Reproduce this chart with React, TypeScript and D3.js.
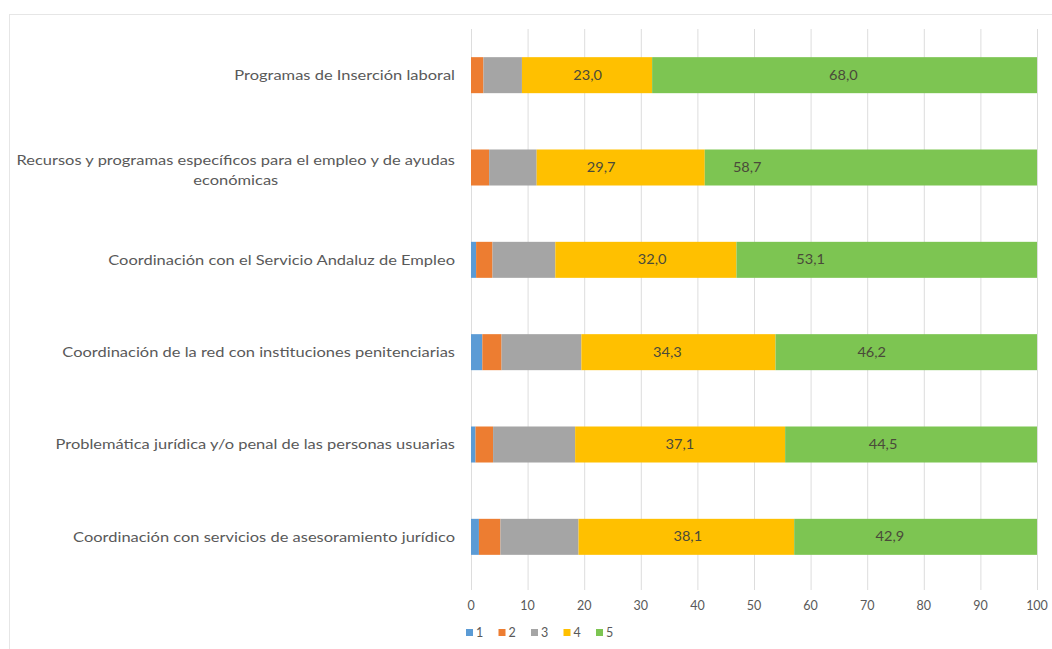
import React, { useEffect, useRef } from "react";
import * as d3 from "d3";

const categories = [
  "Programas de Inserción laboral",
  "Recursos y programas específicos para el empleo y de ayudas|económicas",
  "Coordinación con el Servicio Andaluz de Empleo",
  "Coordinación  de la red con instituciones penitenciarias",
  "Problemática jurídica y/o penal de las personas usuarias",
  "Coordinación con servicios de asesoramiento jurídico",
];
const seriesNames = ["1", "2", "3", "4", "5"];
const s1 = [0.0, 0.0, 0.9, 2.0, 0.8, 1.4];
const s2 = [2.2, 3.2, 2.9, 3.4, 3.1, 3.8];
const s3 = [6.8, 8.4, 11.1, 14.1, 14.5, 13.8];
const s4 = [23.0, 29.7, 32.0, 34.3, 37.1, 38.1];
const s5 = [68.0, 58.7, 53.1, 46.2, 44.5, 42.9];
// where the data labels sit along the value axis
const labelAt4 = [20.6, 23.0, 32.0, 34.7, 36.9, 38.3];
const labelAt5 = [65.8, 48.8, 60.0, 70.8, 72.8, 74.0];
const ticks = [0, 10, 20, 30, 40, 50, 60, 70, 80, 90, 100];
const colors = ["#5B9BD5", "#ED7D31", "#A5A5A5", "#FFC000", "#7DC552"];

const W = 1052;
const H = 649;
const FONT = "Lato, 'Open Sans', sans-serif";
const SX = 1.22;

export default function App() {
  const ref = useRef<SVGSVGElement | null>(null);
  useEffect(() => {
    const svg = d3.select(ref.current);
    svg.selectAll("*").remove();
    const values = [s1, s2, s3, s4, s5];
    const rows = categories.map((c, i) => {
      const o: any = { cat: c };
      seriesNames.forEach((s, k) => (o[s] = values[k][i]));
      return o;
    });
    const stack = d3.stack<any>().keys(seriesNames)(rows);

    const x = d3.scaleLinear().domain([0, 100]).range([471, 1037]);
    const y = d3.scaleBand().domain(categories).range([29, 583]).paddingInner(0.61).paddingOuter(0.305);

    svg.append("rect").attr("x", 9.5).attr("y", 14.5).attr("width", W).attr("height", H)
      .attr("fill", "none").attr("stroke", "#E6E6E6");

    svg.append("g").selectAll("line").data(ticks).join("line")
      .attr("x1", (d) => x(d) + 0.5).attr("x2", (d) => x(d) + 0.5)
      .attr("y1", 29).attr("y2", 590)
      .attr("stroke", "#DDDDDD").attr("stroke-width", 1);

    svg.append("g").selectAll("g").data(stack).join("g")
      .attr("fill", (d, i) => colors[i])
      .selectAll("rect").data((d) => d).join("rect")
      .attr("x", (d) => x(d[0]))
      .attr("width", (d) => Math.max(0, x(d[1]) - x(d[0])))
      .attr("y", (d: any) => y(d.data.cat)!)
      .attr("height", y.bandwidth());

    const labelSets: [number[], number[]][] = [[s4, labelAt4], [s5, labelAt5]];
    labelSets.forEach(([vals, pos]) => {
      svg.append("g").selectAll("g").data(categories).join("g")
        .attr("transform", (c, i) =>
          `translate(${x(pos[i])},${y(c)! + y.bandwidth() / 2}) scale(1.12,1)`)
        .append("text")
        .attr("dy", "0.35em")
        .attr("text-anchor", "middle")
        .attr("font-family", FONT).attr("font-size", 13)
        .attr("fill", "#4A4A3A")
        .text((c, i) => vals[i].toFixed(1).replace(".", ","));
    });

    categories.forEach((c) => {
      const lines = c.split("|");
      const cy = y(c)! + y.bandwidth() / 2 + (lines.length > 1 ? 3 : 0);
      const lh = 20;
      const g = svg.append("g").attr("transform", `translate(455,${cy}) scale(${SX},1)`);
      const t = g.append("text").attr("text-anchor", "middle")
        .attr("font-family", FONT).attr("font-size", 13.5).attr("fill", "#595959");
      const spans = lines.map((l, i) =>
        t.append("tspan").attr("y", (i - (lines.length - 1) / 2) * lh).attr("dy", "0.35em").text(l)
      );
      const widths = spans.map((s) => (s.node() as SVGTSpanElement).getComputedTextLength());
      const maxW = Math.max(...widths);
      spans.forEach((s) => s.attr("x", -maxW / 2));
    });

    svg.append("g").selectAll("text").data(ticks).join("text")
      .attr("x", (d) => x(d)).attr("y", 610)
      .attr("text-anchor", "middle")
      .attr("font-family", FONT).attr("font-size", 12.5).attr("fill", "#595959")
      .text((d) => String(d));

    const leg = svg.append("g").attr("font-family", FONT).attr("font-size", 12.5).attr("fill", "#595959");
    const lx = d3.scalePoint().domain(seriesNames).range([466, 596]);
    seriesNames.forEach((s, i) => {
      leg.append("rect").attr("x", lx(s)!).attr("y", 629).attr("width", 7).attr("height", 7).attr("fill", colors[i]);
      leg.append("text").attr("x", lx(s)! + 10).attr("y", 633).attr("dy", "0.35em").text(s);
    });
  }, []);
  return (
    <svg ref={ref} width={W} height={H} style={{ position: "absolute", left: 0, top: 0, background: "#fff" }} />
  );
}
